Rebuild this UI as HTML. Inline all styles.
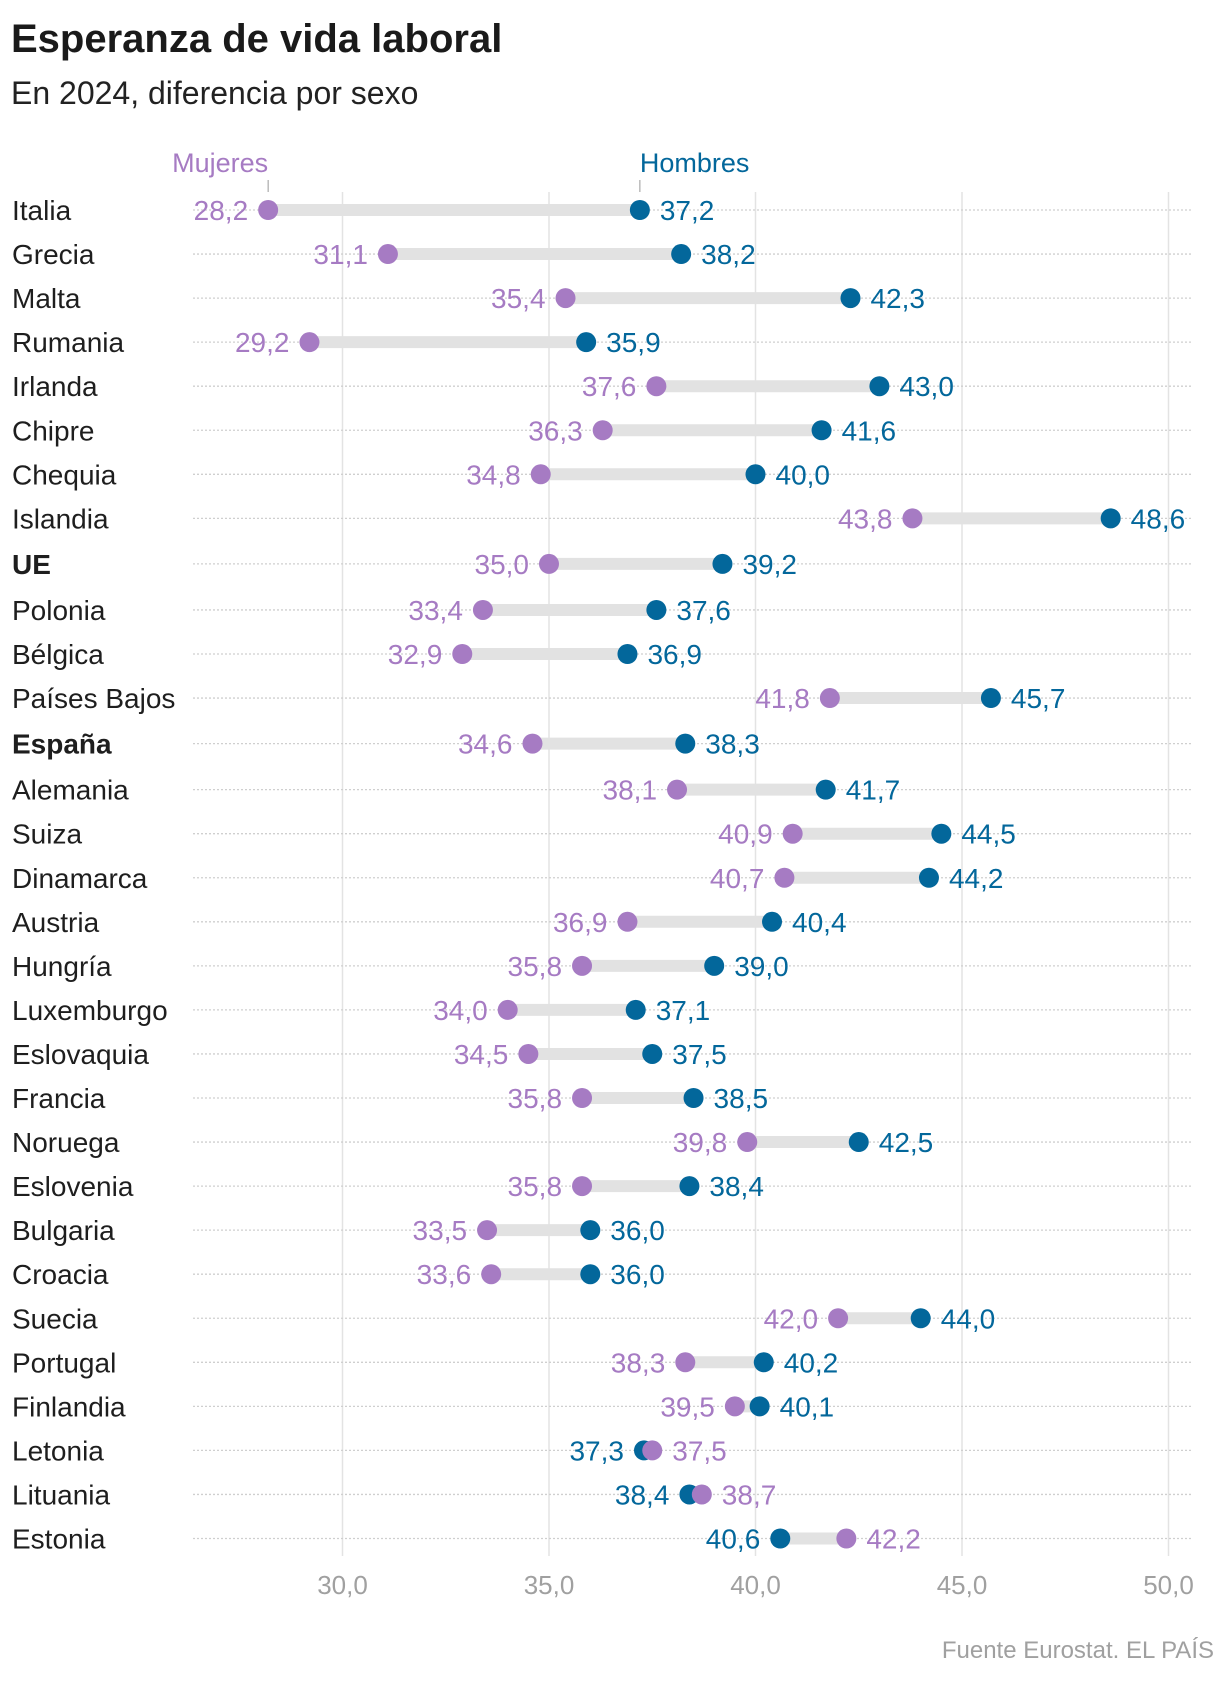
<!DOCTYPE html>
<html><head><meta charset="utf-8"><style>
html,body{margin:0;padding:0;background:#fff;}
body{width:1220px;height:1680px;overflow:hidden;font-family:"Liberation Sans",sans-serif;}
</style></head><body>
<svg id="chart" width="1220" height="1680" xmlns="http://www.w3.org/2000/svg" font-family="Liberation Sans, sans-serif">
<text x="11" y="52" font-size="40" font-weight="bold" fill="#1a1a1a">Esperanza de vida laboral</text>
<text x="11" y="104" font-size="32" fill="#222">En 2024, diferencia por sexo</text>
<g id="grid"></g>
<g id="rows"></g>
<g id="legend"></g>
<text x="1214" y="1658" text-anchor="end" font-size="24" fill="#a0a0a0">Fuente Eurostat. EL PAÍS</text>
</svg>
<script>
const countries = ["Italia","Grecia","Malta","Rumania","Irlanda","Chipre","Chequia","Islandia","UE","Polonia","Bélgica","Países Bajos","España","Alemania","Suiza","Dinamarca","Austria","Hungría","Luxemburgo","Eslovaquia","Francia","Noruega","Eslovenia","Bulgaria","Croacia","Suecia","Portugal","Finlandia","Letonia","Lituania","Estonia"];
const women = [28.2,31.1,35.4,29.2,37.6,36.3,34.8,43.8,35.0,33.4,32.9,41.8,34.6,38.1,40.9,40.7,36.9,35.8,34.0,34.5,35.8,39.8,35.8,33.5,33.6,42.0,38.3,39.5,37.5,38.7,42.2];
const men = [37.2,38.2,42.3,35.9,43.0,41.6,40.0,48.6,39.2,37.6,36.9,45.7,38.3,41.7,44.5,44.2,40.4,39.0,37.1,37.5,38.5,42.5,38.4,36.0,36.0,44.0,40.2,40.1,37.3,38.4,40.6];
const boldRows = ["UE","España"];
const xTicks = [30,35,40,45,50];

const NS="http://www.w3.org/2000/svg";
const PURPLE="#a67bc3", BLUE="#03679b";
function x(v){return 962+(v-45)*41.3;}
function y(i){
  let extra=0;
  countries.forEach((c,k)=>{ if(boldRows.includes(c)){ if(i===k) extra+=1.5; else if(i>k) extra+=3.5; } });
  return 210+i*44.05+extra;
}
function fmt(v){return v.toFixed(1).replace('.',',');}
function mk(tag,attrs,parent,txt){const e=document.createElementNS(NS,tag);for(const k in attrs)e.setAttribute(k,attrs[k]);if(txt!==undefined)e.textContent=txt;parent.appendChild(e);return e;}

const grid=document.getElementById('grid');
xTicks.forEach(t=>{
  const l=mk('line',{x1:x(t),x2:x(t),y1:192,y2:1556,stroke:'#e3e3e3','stroke-width':1.5},grid);
  
  
  const tx=mk('text',{x:x(t),y:1594,'text-anchor':'middle','font-size':26,fill:'#a0a0a0'},grid,fmt(t));
  
  
});

const rows=document.getElementById('rows');
countries.forEach((c,i)=>{
  const yy=y(i), w=women[i], m=men[i];
  const g=mk('g',{},rows);
  
  
  const bold=boldRows.includes(c);
  const lab=mk('text',{x:12,y:yy+10,'font-size':28,'font-weight':bold?'bold':'normal',fill:'#1e1e1e'},g,c);
  
  
  const dl=mk('line',{x1:193,x2:1192,y1:yy,y2:yy,stroke:'#cfcfcf','stroke-width':1.3,'stroke-dasharray':'2 2'},g);
  
  
  const bar=mk('line',{x1:x(Math.min(w,m)),x2:x(Math.max(w,m)),y1:yy,y2:yy,stroke:'#e2e2e2','stroke-width':12},g);
  
  
  const pts=[{v:w,c:PURPLE,n:'women'},{v:m,c:BLUE,n:'men'}].sort((a,b)=>a.v-b.v);
  pts.forEach((p,k)=>{
    const d=mk('circle',{cx:x(p.v),cy:yy,r:10,fill:p.c},g);
    
    
    const left=k===0;
    const t=mk('text',{x:left?x(p.v)-20:x(p.v)+20,y:yy+10,'text-anchor':left?'end':'start','font-size':28,fill:p.c},g,fmt(p.v));
    
    
  });
});

const lg=document.getElementById('legend');
const xw=x(women[0]), xm=x(men[0]);
let e;
e=mk('text',{x:xw,y:172,'text-anchor':'end','font-size':27,fill:PURPLE},lg,'Mujeres');


e=mk('line',{x1:xw,x2:xw,y1:180,y2:192,stroke:'#aaa','stroke-width':1.2},lg);


e=mk('text',{x:xm,y:172,'text-anchor':'start','font-size':27,fill:BLUE},lg,'Hombres');


e=mk('line',{x1:xm,x2:xm,y1:180,y2:192,stroke:'#aaa','stroke-width':1.2},lg);


</script>
</body></html>
